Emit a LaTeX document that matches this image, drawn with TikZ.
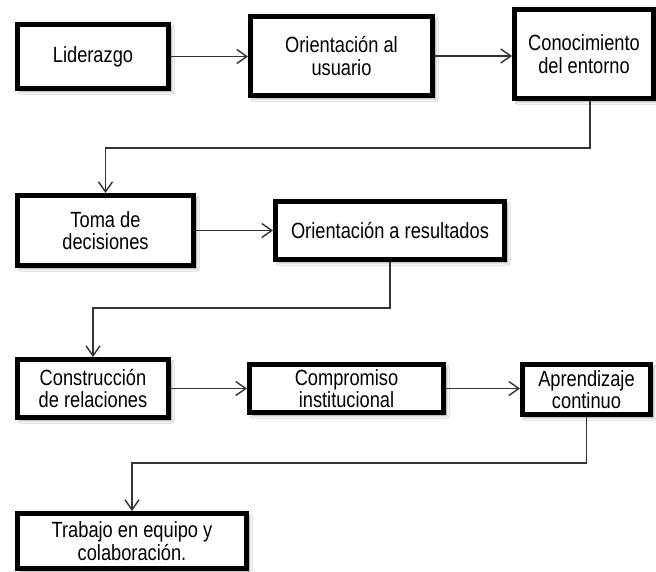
\documentclass[tikz,border=0pt]{standalone}
\usepackage{fontspec}
\setmainfont{Liberation Sans}[FakeStretch=0.83]
\usetikzlibrary{arrows.meta,shadows.blur,calc}
\begin{document}
\begin{tikzpicture}[x=1pt,y=-1pt,
  box/.style={draw=black, line width=5pt, fill=white, rectangle, inner sep=0pt,
    align=center, font=\fontsize{22}{22.5}\selectfont,
    blur shadow={shadow xshift=3pt, shadow yshift=-3pt, shadow blur steps=6,
      shadow blur radius=2.5pt, shadow opacity=40}},
  conn/.style={draw=black!80, line width=1.4pt,
    -{Straight Barb[length=10pt,width=14pt]}},
]
\useasboundingbox (0,0) rectangle (656,571);
\clip (0,0) rectangle (656,571);
\fill[white] (0,0) rectangle (656,571);

\node[box, minimum width=151pt, minimum height=64pt] (c1) at (93,56.5) {Liderazgo};
\node[box, minimum width=182pt, minimum height=79pt] (c2) at (341.5,56) {Orientación al\\usuario};
\node[box, minimum width=139pt, minimum height=89pt] (c3) at (584,54) {Conocimiento\\del entorno};

\node[box, minimum width=176pt, minimum height=70pt] (c4) at (105.5,230.5) {Toma de\\decisiones};
\node[box, minimum width=229pt, minimum height=58pt] (c5) at (390,230.5) {Orientación a resultados};

\node[box, minimum width=151pt, minimum height=58pt] (c6) at (93,388.5) {Construcción\\de relaciones};
\node[box, minimum width=194pt, minimum height=48pt] (c7) at (346.5,388.5) {Compromiso\\institucional};
\node[box, minimum width=128pt, minimum height=50pt] (c8) at (586.5,389.5) {Aprendizaje\\continuo};

\node[box, minimum width=229pt, minimum height=55pt] (c9) at (132,541) {Trabajo en equipo y\\colaboración.};

\draw[conn] (c1.east) -- (c1.east -| c2.west);
\draw[conn] (c2.east) -- (c2.east -| c3.west);
\draw[conn] ([xshift=6pt]c3.south) -- ++(0,47) -| (c4.north);
\draw[conn] (c4.east) -- (c4.east -| c5.west);
\draw[conn] (c5.south) -- ++(0,46) -| (c6.north);
\draw[conn] (c6.east) -- (c6.east -| c7.west);
\draw[conn] (c7.east) -- (c7.east -| c8.west);
\draw[conn] (c8.south) -- ++(0,46) -| (c9.north);
\end{tikzpicture}
\end{document}
